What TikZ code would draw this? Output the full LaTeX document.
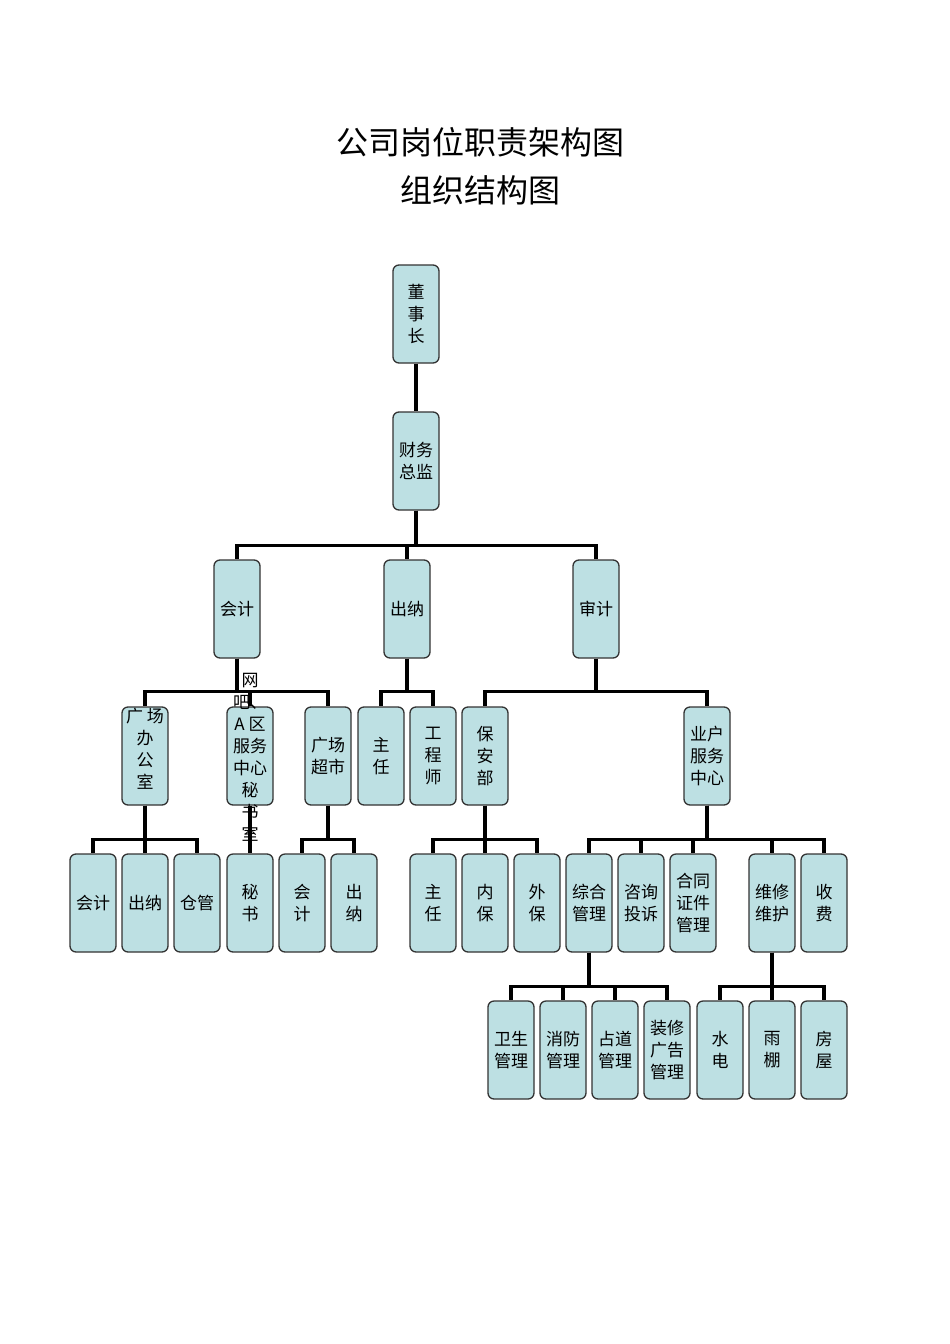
\documentclass[tikz,border=0pt]{standalone}
\usepackage{fontspec}
\setmainfont{Noto Sans CJK SC}
\begin{document}
\begin{tikzpicture}[x=1pt,y=-1pt,
  box/.style={draw=black!80,line width=1.3pt,fill=boxc,rounded corners=6pt,minimum width=46pt,minimum height=98pt,inner sep=0pt,align=center,font=\fontsize{17}{22}\selectfont},
  txt/.style={align=center,font=\fontsize{17}{22}\selectfont,inner sep=0pt},
  con/.style={line width=3.6pt}]
\definecolor{boxc}{HTML}{BDE0E3}
\useasboundingbox (0,0) rectangle (950,1344);
\node[font=\fontsize{32}{48}\selectfont,align=center] (title) at (480,166) {公司岗位职责架构图\\组织结构图};
% rows
\node[box] (dsz) at (416,314) {董\\事\\长};
\node[box] (cwzj) at (416,461) {财务\\总监};
\node[box] (kj) at (237,609) {会计};
\node[box] (cn) at (407,609) {出纳};
\node[box] (sj) at (596,609) {审计};
\node[box] (gbs) at (145,756) {};
\node[txt] (gbst) at (145,749) {广\ 场\\办\\公\\室};
\node[box] (wb) at (250,756) {};
\node[txt] (wbt) at (250,757) {网\\吧、\\A 区\\服务\\中心\\秘\\书\\室};
\node[box] (gcs) at (328,756) {广场\\超市};
\node[box] (zr1) at (381,756) {主\\任};
\node[box] (gcs2) at (433,756) {工\\程\\师};
\node[box] (bab) at (485,756) {保\\安\\部};
\node[box] (yh) at (707,756) {业户\\服务\\中心};
\node[box] (kj2) at (93,903) {会计};
\node[box] (cn2) at (145,903) {出纳};
\node[box] (cg) at (197,903) {仓管};
\node[box] (ms) at (250,903) {秘\\书};
\node[box] (kj3) at (302,903) {会\\计};
\node[box] (cn3) at (354,903) {出\\纳};
\node[box] (zr2) at (433,903) {主\\任};
\node[box] (nb) at (485,903) {内\\保};
\node[box] (wbb) at (537,903) {外\\保};
\node[box] (zh) at (589,903) {综合\\管理};
\node[box] (zx) at (641,903) {咨询\\投诉};
\node[box] (ht) at (693,903) {合同\\证件\\管理};
\node[box] (wx) at (772,903) {维修\\维护};
\node[box] (sf) at (824,903) {收\\费};
\node[box] (ws) at (511,1050) {卫生\\管理};
\node[box] (xf) at (563,1050) {消防\\管理};
\node[box] (zd) at (615,1050) {占道\\管理};
\node[box] (zx2) at (667,1050) {装修\\广告\\管理};
\node[box] (sd) at (720,1050) {水\\电};
\node[box] (yp) at (772,1050) {雨\\棚};
\node[box] (fw) at (824,1050) {房\\屋};
% connectors
\draw[con] (dsz) -- (cwzj);
\foreach \p/\d/\cs in {cwzj/35/{kj,cn,sj}, kj/33/{gbs,wb,gcs}, cn/33/{zr1,gcs2}, sj/33/{bab,yh},
  gbs/34/{kj2,cn2,cg}, wb/34/{ms}, gcs/34/{kj3,cn3}, bab/34/{zr2,nb,wbb}, yh/34/{zh,zx,ht,wx,sf},
  zh/34/{ws,xf,zd,zx2}, wx/34/{sd,yp,fw}}{
  \foreach \c in \cs { \draw[con] (\p.south) -- ++(0,\d) -| (\c.north); }
}
\end{tikzpicture}
\end{document}
